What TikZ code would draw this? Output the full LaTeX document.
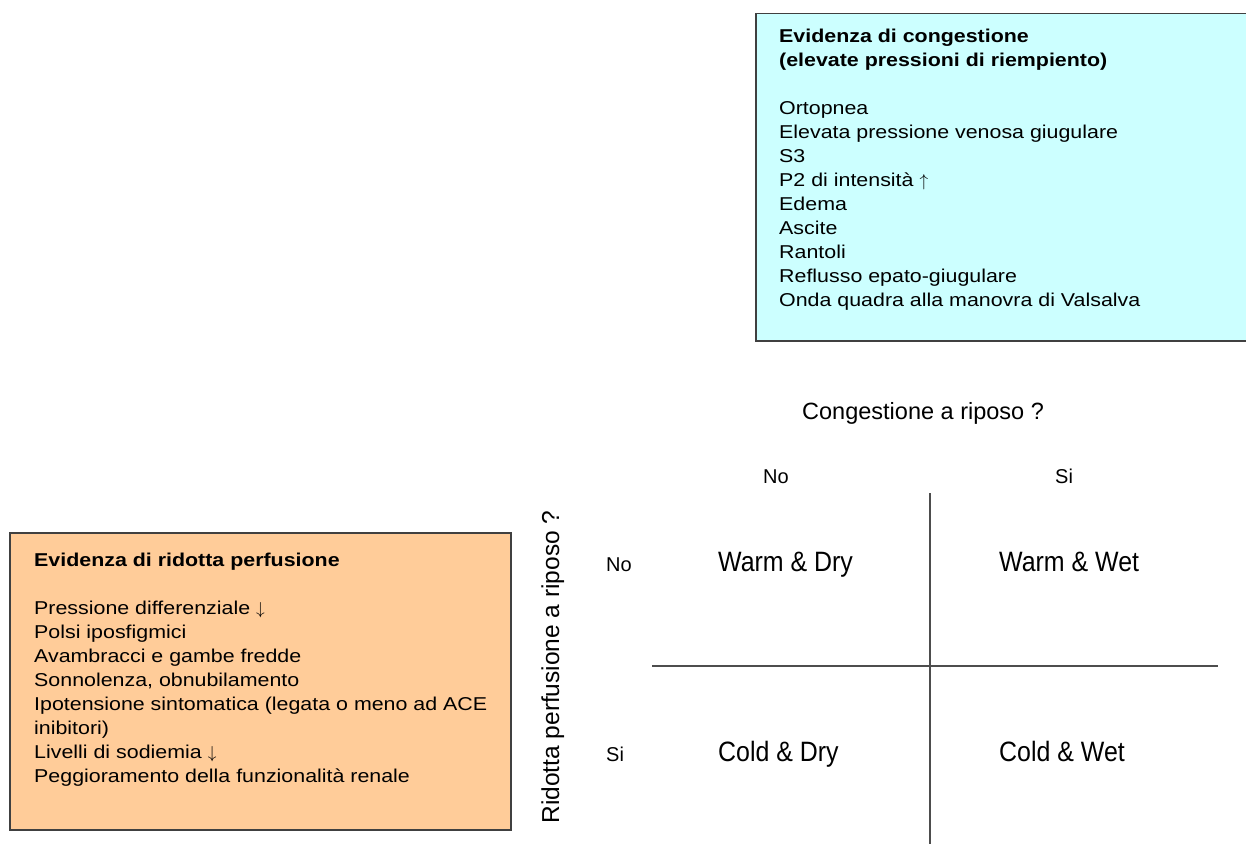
\documentclass[tikz,border=0pt]{standalone}
\usepackage{fontspec}
\setmainfont{Liberation Sans}
\newfontfamily\widefont{Liberation Sans}[FakeStretch=1.15]
\newfontfamily\narrowfont{Liberation Sans}[FakeStretch=0.89]
\definecolor{congfill}{HTML}{CCFFFF}
\definecolor{perffill}{HTML}{FFCC99}
\definecolor{edgegray}{HTML}{404040}
\definecolor{gridgray}{HTML}{4D4D4D}
\tikzstyle{panel} = [rectangle, draw=edgegray, line width=1.5pt, anchor=north west, inner sep=0pt]
\tikzstyle{paneltext} = [anchor=base west, align=left, inner sep=0pt, font=\widefont\fontsize{18.6}{24}\selectfont]
\tikzstyle{cell} = [anchor=base west, inner sep=0pt, font=\narrowfont\fontsize{28}{32}\selectfont]
\tikzstyle{answer} = [anchor=base west, inner sep=0pt, font=\fontsize{20}{24}\selectfont]
\tikzstyle{question} = [inner sep=0pt, font=\fontsize{23.5}{28}\selectfont]
\tikzstyle{line} = [draw=gridgray, line width=2pt]
\begin{document}
\begin{tikzpicture}[x=1pt, y=-1pt]
\useasboundingbox (0,0) rectangle (1246,843);
\node (congbox) [panel, fill=congfill, minimum width=500pt, minimum height=327pt] at (755,13) {};
\node (perfbox) [panel, fill=perffill, minimum width=501pt, minimum height=297pt] at (9,532) {};
% base = baseline of the last line
\node (congtext) [paneltext] at (779,306) {\textbf{Evidenza di congestione}\\
  \textbf{(elevate pressioni di riempiento)}\\[24pt]
  Ortopnea\\ Elevata pressione venosa giugulare\\ S3\\ P2 di intensità $\uparrow$\\
  Edema\\ Ascite\\ Rantoli\\ Reflusso epato-giugulare\\
  Onda quadra alla manovra di Valsalva};
\node (perftext) [paneltext] at (34,782) {\textbf{Evidenza di ridotta perfusione}\\[24pt]
  Pressione differenziale $\downarrow$\\ Polsi iposfigmici\\ Avambracci e gambe fredde\\
  Sonnolenza, obnubilamento\\ Ipotensione sintomatica (legata o meno ad ACE\\
  inibitori)\\ Livelli di sodiemia $\downarrow$\\ Peggioramento della funzionalità renale};
% griglia
\coordinate (vtop) at (930,493);
\coordinate (vbot) at (930,845);
\coordinate (hleft) at (652,666);
\coordinate (hright) at (1218,666);
\draw [line] (vtop) -- (vbot);
\draw [line] (hleft) -- (hright);
\node (congq) [question, anchor=base west] at (802,419) {Congestione a riposo ?};
\node (perfq) [question, rotate=90, anchor=base, font=\fontsize{24.5}{28}\selectfont] at (559,667) {Ridotta perfusione a riposo ?};
\node (colno) [answer] at (763,483) {No};
\node (colsi) [answer] at (1055,483) {Si};
\node (rowno) [answer] at (606,571) {No};
\node (rowsi) [answer] at (606,761) {Si};
\node (warmdry) [cell] at (718,571) {Warm \& Dry};
\node (warmwet) [cell] at (999,571) {Warm \& Wet};
\node (colddry) [cell] at (718,761) {Cold \& Dry};
\node (coldwet) [cell] at (999,761) {Cold \& Wet};
\end{tikzpicture}
\end{document}
